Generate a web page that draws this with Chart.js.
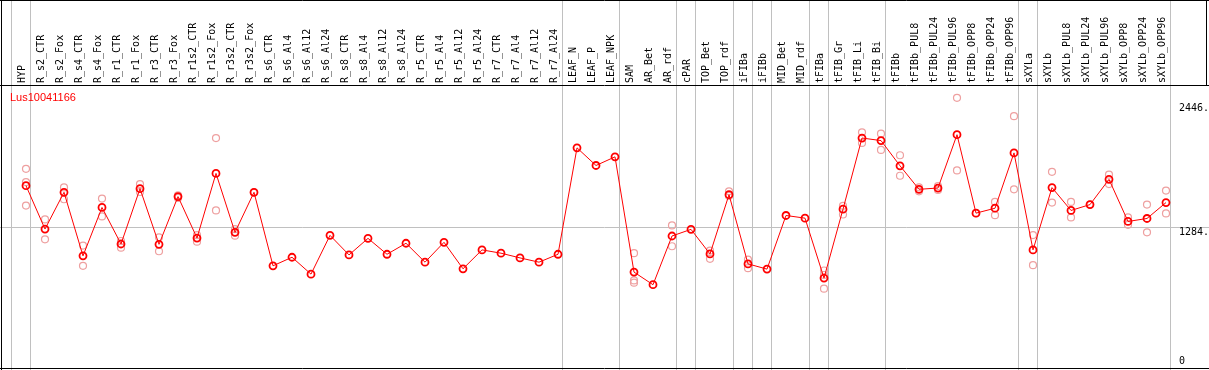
<!DOCTYPE html>
<html>
<head>
<meta charset="utf-8">
<script src="https://cdn.jsdelivr.net/npm/chart.js@4/dist/chart.umd.min.js"></script>
<style>
html,body{margin:0;padding:0;background:#fff;}
#wrap{position:relative;width:1209px;height:370px;}
</style>
</head>
<body>
<div id="wrap"><canvas id="c" width="1209" height="370"></canvas></div>
<script>
const categories = ["HYP","R_s2_CTR","R_s2_Fox","R_s4_CTR","R_s4_Fox","R_r1_CTR","R_r1_Fox","R_r3_CTR","R_r3_Fox","R_r1s2_CTR","R_r1s2_Fox","R_r3s2_CTR","R_r3s2_Fox","R_s6_CTR","R_s6_Al4","R_s6_Al12","R_s6_Al24","R_s8_CTR","R_s8_Al4","R_s8_Al12","R_s8_Al24","R_r5_CTR","R_r5_Al4","R_r5_Al12","R_r5_Al24","R_r7_CTR","R_r7_Al4","R_r7_Al12","R_r7_Al24","LEAF_N","LEAF_P","LEAF_NPK","SAM","AR_Bet","AR_rdf","cPAR","TOP_Bet","TOP_rdf","iFIBa","iFIBb","MID_Bet","MID_rdf","tFIBa","tFIB_Gr","tFIB_Li","tFIB_Bi","tFIBb","tFIBb_PUL8","tFIBb_PUL24","tFIBb_PUL96","tFIBb_OPP8","tFIBb_OPP24","tFIBb_OPP96","sXYLa","sXYLb","sXYLb_PUL8","sXYLb_PUL24","sXYLb_PUL96","sXYLb_OPP8","sXYLb_OPP24","sXYLb_OPP96"];

const meanValues = [1671,1265,1609,1014,1467,1125,1643,1122,1569,1181,1786,1234,1609,921,1001,843,1206,1023,1178,1029,1132,955,1141,893,1070,1039,995,955,1029,2025,1860,1941,862,744,1200,1262,1032,1587,939,890,1392,1367,806,1451,2117,2093,1857,1637,1649,2148,1414,1460,1978,1070,1653,1439,1494,1730,1336,1364,1513];

const replicateValues = [
  [1829,1705,1485],[1355,1169],[1655,1544],[1110,921],[1550,1383],[1153,1091],[1686,1612],[1188,1057],[1581,1556],[1209,1147],
  [2117,1439],[1265,1203],[1609],[],[],[],[],[],[],[],
  [],[],[],[],[],[],[],[],[],[],
  [],[],[1039,784,763],[],[1299,1104],[],[1063,986],[1618,1575],[979,899],[],
  [],[],[877,707,835],[1482,1401],[2170,2071],[2158,2006],[1956,1764],[1618,1656],[1631,1667],[2493,1814],
  [1414],[1519,1395],[2322,1637],[1209,927],[1801,1513],[1519,1374],[1494],[1774,1686],[1374,1305],[1494,1234],
  [1625,1411]
];

const yTickValues = [0, 1284, 2446];
const yTickLabels = ["0", "1284.", "2446."];
const groupEndIndices = [-1, 0, 28, 31, 34, 35, 37, 38, 39, 41, 42, 45, 52, 53, 60];
const geneTitle = "Lus10041166";

const replicatePoints = [];
replicateValues.forEach((arr, i) => arr.forEach(v => replicatePoints.push({x: categories[i], y: v})));

const framePlugin = {
  id: 'frame',
  beforeDraw(chart) {
    const ctx = chart.ctx, xs = chart.scales.x, ys = chart.scales.y;
    const W = chart.width, H = chart.height;
    ctx.save();
    ctx.strokeStyle = '#c0c0c0';
    ctx.lineWidth = 1;
    const step = xs.getPixelForValue(1) - xs.getPixelForValue(0);
    groupEndIndices.forEach(i => {
      const x = Math.round(xs.getPixelForValue(0) + step * i + 4) + 0.5;
      ctx.beginPath(); ctx.moveTo(x, 0); ctx.lineTo(x, H); ctx.stroke();
    });
    const yg = Math.round(ys.getPixelForValue(1284)) + 0.5;
    ctx.beginPath(); ctx.moveTo(0, yg); ctx.lineTo(W, yg); ctx.stroke();
    ctx.strokeStyle = '#000';
    ctx.beginPath();
    ctx.moveTo(0, 0.5); ctx.lineTo(W, 0.5);
    ctx.moveTo(0, 85.5); ctx.lineTo(W, 85.5);
    ctx.moveTo(1.5, 0); ctx.lineTo(1.5, H);
    ctx.moveTo(0, 368.5); ctx.lineTo(W, 368.5);
    ctx.moveTo(W - 2.5, 0); ctx.lineTo(W - 2.5, 85);
    ctx.stroke();
    ctx.restore();
  },
  afterDraw(chart) {
    const ctx = chart.ctx, ys = chart.scales.y;
    ctx.save();
    ctx.fillStyle = '#000';
    ctx.font = '10px "DejaVu Sans Mono"';
    ctx.textBaseline = 'alphabetic';
    ctx.textAlign = 'left';
    yTickValues.forEach((v, k) => {
      const y = Math.min(ys.getPixelForValue(v) + 8, ys.bottom);
      ctx.fillText(yTickLabels[k], 1179, y);
    });
    ctx.fillStyle = '#ff0000';
    ctx.font = '11px "Liberation Sans"';
    ctx.fillText(geneTitle, 10, 101);
    ctx.restore();
  }
};

new Chart(document.getElementById('c'), {
  type: 'line',
  data: {
    labels: categories,
    datasets: [
      {
        label: 'mean',
        data: meanValues,
        borderColor: '#ff0000',
        borderWidth: 1,
        pointRadius: 3.5,
        pointBorderWidth: 1.8,
        pointBorderColor: '#ff0000',
        pointBackgroundColor: 'rgba(0,0,0,0)',
        tension: 0,
        clip: false,
        order: 0
      },
      {
        label: 'replicates',
        data: replicatePoints,
        showLine: false,
        pointRadius: 3.5,
        pointBorderWidth: 1.2,
        pointBorderColor: '#eea0a0',
        pointBackgroundColor: 'rgba(0,0,0,0)',
        clip: false,
        order: 1
      }
    ]
  },
  options: {
    responsive: false,
    animation: false,
    events: [],
    layout: { padding: { left: 26, right: 43, top: 0, bottom: 4 } },
    plugins: { legend: { display: false }, tooltip: { enabled: false }, title: { display: false } },
    scales: {
      x: {
        type: 'category',
        position: 'top',
        offset: false,
        grid: { display: false, drawTicks: false },
        border: { display: false },
        ticks: {
          autoSkip: false,
          minRotation: 90,
          maxRotation: 90,
          padding: 3,
          labelOffset: 8,
          color: '#000',
          font: { family: 'DejaVu Sans Mono', size: 10 }
        },
        afterFit(scale) { scale.height = 86; }
      },
      y: {
        display: false,
        min: 0,
        max: 2604
      }
    }
  },
  plugins: [framePlugin]
});
</script>
</body>
</html>
